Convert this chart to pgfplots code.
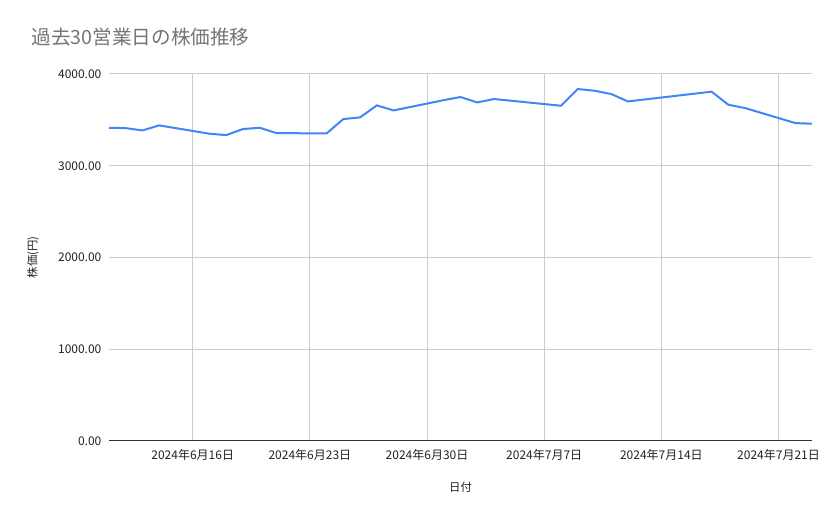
\documentclass[border=0pt]{standalone}
\usepackage{fontspec}
\setmainfont{Noto Sans CJK JP}
\usepackage{pgfplots}
\pgfplotsset{compat=1.18}

\definecolor{lineblue}{HTML}{4285F4}
\definecolor{gridgray}{HTML}{CCCCCC}
\definecolor{titlegray}{HTML}{757575}
\definecolor{textdark}{HTML}{222222}

% day index counted from 2024-06-11, closing price
\pgfplotstableread{
day price
0  3414
1  3410
2  3385
3  3440
6  3349
7  3334
8  3400
9  3414
10 3356
13 3352
14 3509
15 3527
16 3658
17 3603
20 3715
21 3749
22 3690
23 3727
24 3709
27 3654
28 3836
29 3818
30 3782
31 3701
35 3786
36 3807
37 3665
38 3629
41 3465
42 3458
}\prices

\begin{document}
\begin{tikzpicture}
\begin{axis}[
  scale only axis,
  width=527.25pt, height=275.25pt,
  xmin=0, xmax=42, ymin=0, ymax=4000,
  axis line style={draw=none},
  major tick length=0pt,
  xtick={5,12,19,26,33,40},
  xticklabels={2024年6月16日,2024年6月23日,2024年6月30日,2024年7月7日,2024年7月14日,2024年7月21日},
  ytick={0,1000,2000,3000,4000},
  yticklabel={\pgfmathprintnumber[fixed,fixed zerofill,precision=2,1000 sep={},assume math mode=true]{\tick}},
  xmajorgrids, ymajorgrids,
  grid style={gridgray, line width=0.75pt},
  tick label style={font=\fontsize{9}{11}\selectfont, text=textdark},
  yticklabel style={anchor=east, inner sep=0pt, xshift=-5.5pt},
  xticklabel style={anchor=north, inner sep=0pt, yshift=-6pt},
  title={過去30営業日の株価推移},
  title style={at={(axis description cs:-0.1166,1.08)}, anchor=west,
    font=\fontsize{14.7}{17}\selectfont, text=titlegray},
  xlabel={日付},
  ylabel={株価(円)},
  every axis x label/.style={at={(axis description cs:0.5,-0.1253)}, anchor=center,
    font=\fontsize{8.5}{10}\selectfont, text=textdark},
  every axis y label/.style={at={(axis description cs:-0.108,0.5)}, anchor=center, rotate=90,
    font=\fontsize{8.5}{10}\selectfont, text=textdark},
]
\addplot[lineblue, line width=1.5pt, no marks] table[x=day, y=price] {\prices};
\draw[black!80, line width=0.75pt] (rel axis cs:0,0) -- (rel axis cs:1,0);
\end{axis}
\pgfresetboundingbox
\path[use as bounding box] ([xshift=-81.75pt,yshift=-58.5pt]current axis.south west)
  rectangle ([xshift=20.25pt,yshift=55.5pt]current axis.north east);
\end{tikzpicture}
\end{document}
